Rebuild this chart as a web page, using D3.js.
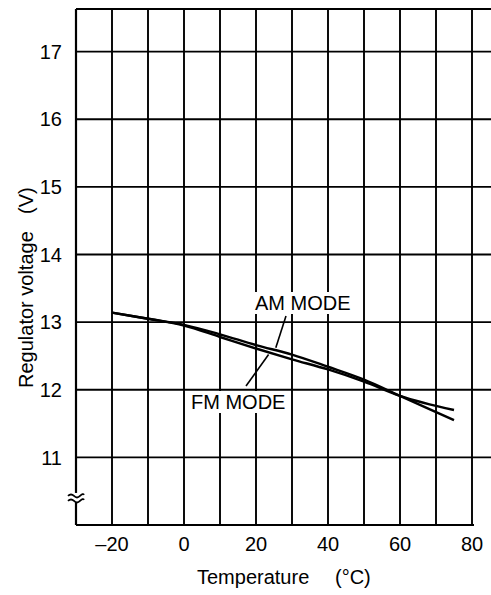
<!DOCTYPE html>
<html>
<head>
<meta charset="utf-8">
<script src="https://cdn.jsdelivr.net/npm/d3@7/dist/d3.min.js"></script>
<style>
  html, body { margin: 0; padding: 0; background: #fff; }
  svg { display: block; }
  text { font-family: "Liberation Sans", Arial, Helvetica, sans-serif; fill: #000; }
</style>
</head>
<body>
<script>
// ---- data ----
const temps = [-20, -10, 0, 10, 20, 30, 40, 50, 60, 75];
const amMode = [13.14, 13.05, 12.96, 12.82, 12.66, 12.52, 12.34, 12.15, 11.91, 11.55];
const fmMode = [13.14, 13.05, 12.95, 12.78, 12.61, 12.45, 12.30, 12.12, 11.91, 11.70];
const xTicks = [-20, 0, 20, 40, 60, 80];
const xTickLabels = ["\u201320", "0", "20", "40", "60", "80"];
const xGrid = [-20, -10, 0, 10, 20, 30, 40, 50, 60, 70, 80];
const yTicks = [11, 12, 13, 14, 15, 16, 17];
const yTickLabels = ["11", "12", "13", "14", "15", "16", "17"];
const xTitle = "Temperature";
const xUnit = "(\u00B0C)";
const yTitle = "Regulator voltage";
const yUnit = "(V)";
const amLabel = "AM MODE";
const fmLabel = "FM MODE";

// ---- layout ----
const W = 491, H = 595;
const L = 76, R = 490, T = 9, B = 525;

const svg = d3.select("body").append("svg").attr("width", W).attr("height", H);
const x = d3.scaleLinear().domain([-30, 85]).range([L, R]);
const y = d3.scaleLinear().domain([10, 17.63]).range([B, T]);

const g = svg.append("g");

// grid
g.selectAll("line.vg").data(xGrid).enter().append("line")
  .attr("x1", d => x(d)).attr("x2", d => x(d))
  .attr("y1", T).attr("y2", B)
  .attr("stroke", "#000").attr("stroke-width", 1.9);
g.selectAll("line.hg").data(yTicks).enter().append("line")
  .attr("x1", L).attr("x2", W)
  .attr("y1", d => y(d)).attr("y2", d => y(d))
  .attr("stroke", "#000").attr("stroke-width", 1.9);

// frame: top, left, bottom
g.append("line").attr("x1", L).attr("x2", W).attr("y1", T).attr("y2", T)
  .attr("stroke", "#000").attr("stroke-width", 2);
g.append("line").attr("x1", L).attr("x2", L).attr("y1", T).attr("y2", B)
  .attr("stroke", "#000").attr("stroke-width", 2.2);
g.append("line").attr("x1", L).attr("x2", x(80) + 2).attr("y1", B).attr("y2", B)
  .attr("stroke", "#000").attr("stroke-width", 2);

// axis break on left axis
const yb = y(10.4);
g.append("rect").attr("x", L - 4).attr("y", yb - 5).attr("width", 8).attr("height", 9).attr("fill", "#fff");
g.append("path")
  .attr("d", `M${L-8},${yb-2} q3,-3 6,0 t6,0 t4,-1 M${L-8},${yb+3} q3,-3 6,0 t6,0 t4,-1`)
  .attr("fill", "none").attr("stroke", "#000").attr("stroke-width", 1.8);

// curves
const line = d3.line().x(d => x(d[0])).y(d => y(d[1])).curve(d3.curveMonotoneX);
g.append("path").datum(temps.map((t, i) => [t, amMode[i]]))
  .attr("d", line).attr("fill", "none").attr("stroke", "#000").attr("stroke-width", 2.4);
g.append("path").datum(temps.map((t, i) => [t, fmMode[i]]))
  .attr("d", line).attr("fill", "none").attr("stroke", "#000").attr("stroke-width", 2.4);

// label leaders
g.append("line").attr("x1", 286).attr("y1", 316).attr("x2", x(25.5)).attr("y2", y(12.62) )
  .attr("stroke", "#000").attr("stroke-width", 1.6);
g.append("line").attr("x1", 246).attr("y1", 386).attr("x2", x(23.5)).attr("y2", y(12.52))
  .attr("stroke", "#000").attr("stroke-width", 1.6);

// labels with white background
function label(txt, xx, yy) {
  const t = g.append("text").attr("x", xx).attr("y", yy)
    .attr("font-size", 20).text(txt);
  const bb = t.node().getBBox();
  g.insert("rect", "text").attr("x", bb.x - 3).attr("y", bb.y).attr("width", bb.width + 6).attr("height", bb.height)
    .attr("fill", "#fff");
}
label(amLabel, 255, 310);
label(fmLabel, 191, 409);

// x tick labels
g.selectAll("text.xt").data(xTicks).enter().append("text")
  .attr("x", d => x(d)).attr("y", 551).attr("text-anchor", "middle")
  .attr("font-size", 20).text((d, i) => xTickLabels[i]);

// y tick labels
g.selectAll("text.yt").data(yTicks).enter().append("text")
  .attr("x", 62).attr("y", d => y(d)).attr("dy", "0.36em").attr("text-anchor", "end")
  .attr("font-size", 20).text((d, i) => yTickLabels[i]);

// axis titles
svg.append("text").attr("x", 197).attr("y", 584).attr("font-size", 20).text(xTitle);
svg.append("text").attr("x", 335).attr("y", 584).attr("font-size", 20).text(xUnit);

svg.append("text").attr("transform", "translate(33,388) rotate(-90)")
  .attr("font-size", 20).text(yTitle);
svg.append("text").attr("transform", "translate(33,214) rotate(-90)")
  .attr("font-size", 20).text(yUnit);
</script>
</body>
</html>
